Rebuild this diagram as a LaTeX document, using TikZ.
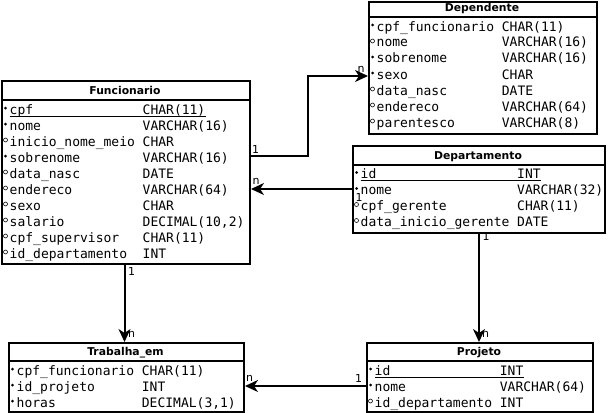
\documentclass[tikz,border=0pt]{standalone}
\usepackage{fontspec}
\setmainfont{DejaVu Sans}
\newfontfamily\monof{DejaVu Sans Mono}
\usetikzlibrary{arrows.meta,calc}

\tikzset{
 tbox/.style={draw, line width=2pt, inner sep=0pt, anchor=north west, fill=white},
 sepline/.style={line width=2pt},
 ttl/.style={font=\bfseries\fontsize{10.8}{12}\selectfont, anchor=base, inner sep=0pt},
 fld/.style={font=\monof\fontsize{13}{13}\selectfont, anchor=base west, inner sep=0pt},
 pk/.style={fill, circle, inner sep=0pt, minimum size=3pt},
 opt/.style={draw, circle, inner sep=0pt, minimum size=4pt, line width=0.6pt},
 conn/.style={line width=2pt, -{Stealth[length=13pt,width=12pt,inset=4pt]}},
 card/.style={font=\fontsize{11}{12}\selectfont, inner sep=0pt, anchor=base},
 uline/.style={line width=0.9pt},
}

% prefix, x1, x2, top, header, bottom, title, type-column x
\newcommand\ertable[8]{%
  \node[tbox, minimum width={(#3-#2)*1pt}, minimum height={(#6-#4)*1pt}] (#1) at (#2,#4) {};
  \draw[sepline] (#2,#5) -- (#3,#5);
  \node[ttl] (#1-title) at ({(#2+#3)/2},{#5-5.5}) {#7};
  \coordinate (#1-o) at (#2,#5);
  \coordinate (#1-t) at (#8,#5);
}
% prefix, k, bullet style, name, type
\newcommand\errow[5]{%
  \node[fld] (#1-n#2) at ($(#1-o)+(8.5,{16*#2+14})$) {#4};
  \node[fld] (#1-v#2) at ($(#1-t)+(0,{16*#2+14})$) {#5};
  \node[#3] (#1-b#2) at ($(#1-o)+(4.5,{16*#2+8})$) {};
}
\newcommand\erul[2]{\draw[uline] ($(#1-n#2.base west)+(0,2)$) -- ($(#1-v#2.base east)+(0,2)$);}

\begin{document}
\begin{tikzpicture}[x=1pt,y=-1pt]
\fill[white] (0,0) rectangle (609,412);
\useasboundingbox (0,0) rectangle (609,412);

% Funcionario
\ertable{fun}{1}{249}{80}{100}{263}{Funcionario}{142.5}
\errow{fun}{0}{pk}{cpf}{CHAR(11)}
\erul{fun}{0}
\errow{fun}{1}{pk}{nome}{VARCHAR(16)}
\errow{fun}{2}{opt}{inicio\_nome\_meio}{CHAR}
\errow{fun}{3}{pk}{sobrenome}{VARCHAR(16)}
\errow{fun}{4}{opt}{data\_nasc}{DATE}
\errow{fun}{5}{opt}{endereco}{VARCHAR(64)}
\errow{fun}{6}{opt}{sexo}{CHAR}
\errow{fun}{7}{opt}{salario}{DECIMAL(10,2)}
\errow{fun}{8}{opt}{cpf\_supervisor}{CHAR(11)}
\errow{fun}{9}{opt}{id\_departamento}{INT}

% Dependente
\ertable{dep}{368}{596}{1}{17}{133}{Dependente}{501.7}
\errow{dep}{0}{pk}{cpf\_funcionario}{CHAR(11)}
\errow{dep}{1}{opt}{nome}{VARCHAR(16)}
\errow{dep}{2}{pk}{sobrenome}{VARCHAR(16)}
\errow{dep}{3}{pk}{sexo}{CHAR}
\errow{dep}{4}{opt}{data\_nasc}{DATE}
\errow{dep}{5}{opt}{endereco}{VARCHAR(64)}
\errow{dep}{6}{opt}{parentesco}{VARCHAR(8)}

% Departamento
\ertable{dept}{352}{604}{144.5}{164.5}{231.5}{Departamento}{517}
\errow{dept}{0}{pk}{id}{INT}
\erul{dept}{0}
\errow{dept}{1}{pk}{nome}{VARCHAR(32)}
\errow{dept}{2}{opt}{cpf\_gerente}{CHAR(11)}
\errow{dept}{3}{opt}{data\_inicio\_gerente}{DATE}

% Trabalha_em
\ertable{trab}{8}{243}{342}{361}{411}{Trabalha\_em}{141.7}
\errow{trab}{0}{pk}{cpf\_funcionario}{CHAR(11)}
\errow{trab}{1}{pk}{id\_projeto}{INT}
\errow{trab}{2}{pk}{horas}{DECIMAL(3,1)}

% Projeto
\ertable{proj}{366}{592}{342}{361}{411}{Projeto}{499.7}
\errow{proj}{0}{pk}{id}{INT}
\erul{proj}{0}
\errow{proj}{1}{pk}{nome}{VARCHAR(64)}
\errow{proj}{2}{opt}{id\_departamento}{INT}

% connectors
\coordinate (p1) at (308,156);
\coordinate (p2) at (308,76);
\draw[conn] (fun.east |- p1) -- (p1) -- (p2) -- (dep.west |- p2);
\coordinate (q) at (300,189);
\draw[conn] (dept.west |- q) -- (fun.east |- q);
\coordinate (r) at (124.5,300);
\draw[conn] (fun.south -| r) -- (trab.north -| r);
\coordinate (s) at (479,300);
\draw[conn] (dept.south -| s) -- (proj.north -| s);
\coordinate (t) at (300,386);
\draw[conn] (proj.west |- t) -- (trab.east |- t);

% cardinalities
\node[card] (c1a) at (255.5,153) {1};
\node[card] (c1b) at (361,72.5) {n};
\node[card] (c2a) at (359,201.5) {1};
\node[card] (c2b) at (256,184.5) {n};
\node[card] (c3a) at (131.5,275.5) {1};
\node[card] (c3b) at (131.5,337) {n};
\node[card] (c4a) at (486,240) {1};
\node[card] (c4b) at (485.5,337) {n};
\node[card] (c5a) at (358.5,382) {1};
\node[card] (c5b) at (249.5,381) {n};
\end{tikzpicture}
\end{document}
